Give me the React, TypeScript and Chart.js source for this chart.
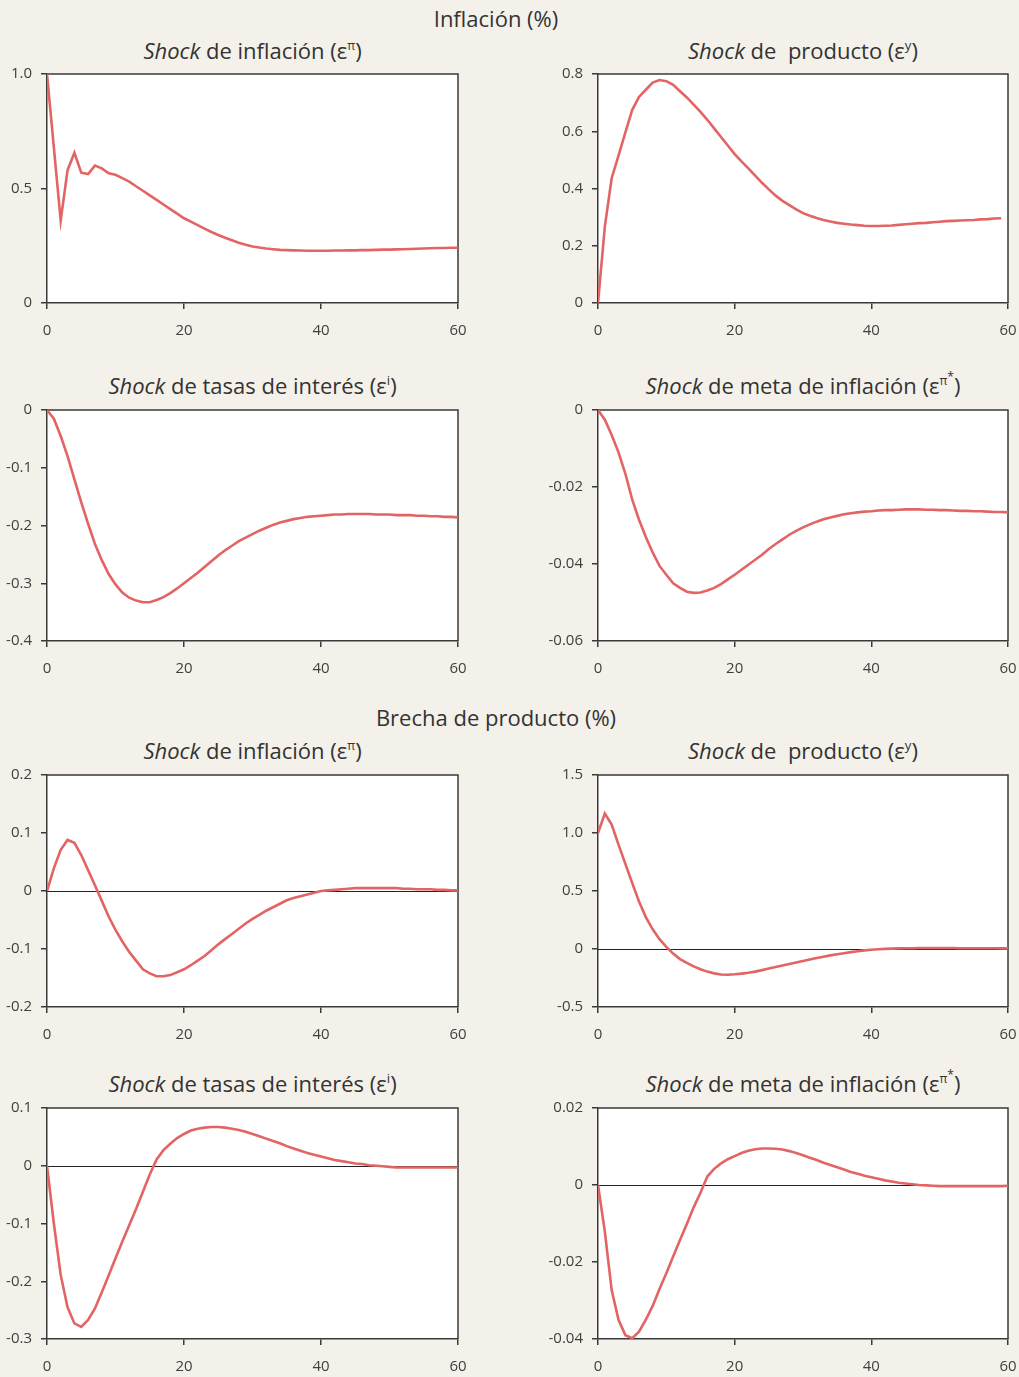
import React, { useEffect, useRef } from "react";
import { Chart, registerables } from "chart.js";

Chart.register(...registerables);

// ---------------- DATA ----------------
const xTickLabels = ["0", "20", "40", "60"];

// Inflación (%) — Shock de inflación
const infShockPi = [1.0, 0.68, 0.36, 0.58, 0.656, 0.569, 0.563, 0.6, 0.588, 0.566, 0.56, 0.545, 0.53, 0.51, 0.49, 0.47, 0.45, 0.43, 0.41, 0.39, 0.37, 0.355, 0.34, 0.325, 0.31, 0.297, 0.285, 0.274, 0.263, 0.254, 0.247, 0.242, 0.238, 0.235, 0.232, 0.231, 0.23, 0.229, 0.228, 0.228, 0.228, 0.228, 0.229, 0.229, 0.23, 0.23, 0.231, 0.231, 0.232, 0.233, 0.233, 0.234, 0.235, 0.236, 0.237, 0.238, 0.239, 0.24, 0.24, 0.241, 0.241];
const infShockPiTicks = ["0", "0.5", "1.0"];

// Inflación (%) — Shock de producto
const infShockY = [0, 0.267, 0.436, 0.515, 0.595, 0.674, 0.72, 0.745, 0.77, 0.779, 0.775, 0.762, 0.74, 0.718, 0.693, 0.668, 0.64, 0.61, 0.58, 0.55, 0.52, 0.495, 0.47, 0.445, 0.42, 0.397, 0.375, 0.357, 0.342, 0.327, 0.314, 0.305, 0.297, 0.29, 0.285, 0.28, 0.277, 0.274, 0.272, 0.27, 0.269, 0.269, 0.27, 0.271, 0.273, 0.275, 0.277, 0.279, 0.28, 0.282, 0.284, 0.286, 0.287, 0.288, 0.289, 0.29, 0.292, 0.293, 0.295, 0.296];
const infShockYTicks = ["0", "0.2", "0.4", "0.6", "0.8"];

// Inflación (%) — Shock de tasas de interés
const infShockI = [0, -0.015, -0.045, -0.08, -0.12, -0.16, -0.197, -0.232, -0.26, -0.284, -0.302, -0.316, -0.325, -0.33, -0.333, -0.333, -0.329, -0.324, -0.317, -0.309, -0.3, -0.291, -0.282, -0.272, -0.262, -0.252, -0.243, -0.235, -0.227, -0.221, -0.215, -0.209, -0.204, -0.199, -0.195, -0.192, -0.189, -0.187, -0.185, -0.184, -0.183, -0.182, -0.181, -0.181, -0.18, -0.18, -0.18, -0.18, -0.181, -0.181, -0.181, -0.182, -0.182, -0.182, -0.183, -0.183, -0.184, -0.184, -0.185, -0.185, -0.186];
const infShockITicks = ["-0.4", "-0.3", "-0.2", "-0.1", "0"];

// Inflación (%) — Shock de meta de inflación
const infShockMeta = [0, -0.0025, -0.0065, -0.011, -0.0165, -0.0232, -0.0285, -0.033, -0.037, -0.0405, -0.0428, -0.045, -0.0462, -0.0472, -0.0475, -0.0474, -0.0469, -0.0462, -0.0452, -0.044, -0.0428, -0.0415, -0.0402, -0.0389, -0.0376, -0.0361, -0.0348, -0.0336, -0.0324, -0.0314, -0.0305, -0.0297, -0.029, -0.0284, -0.0279, -0.0275, -0.0271, -0.0268, -0.0266, -0.0264, -0.0263, -0.0261, -0.026, -0.026, -0.0259, -0.0258, -0.0258, -0.0258, -0.0259, -0.0259, -0.026, -0.026, -0.0261, -0.0262, -0.0262, -0.0263, -0.0263, -0.0264, -0.0265, -0.0265, -0.0266];
const infShockMetaTicks = ["-0.06", "-0.04", "-0.02", "0"];

// Brecha de producto (%) — Shock de inflación
const gapShockPi = [0, 0.039, 0.071, 0.088, 0.083, 0.062, 0.036, 0.01, -0.017, -0.044, -0.067, -0.087, -0.105, -0.12, -0.135, -0.142, -0.147, -0.147, -0.145, -0.14, -0.135, -0.128, -0.12, -0.112, -0.102, -0.092, -0.083, -0.074, -0.065, -0.056, -0.048, -0.041, -0.034, -0.028, -0.022, -0.016, -0.012, -0.009, -0.006, -0.003, 0, 0.001, 0.002, 0.003, 0.004, 0.005, 0.005, 0.005, 0.005, 0.005, 0.005, 0.005, 0.004, 0.004, 0.003, 0.003, 0.003, 0.002, 0.002, 0.001, 0.001];
const gapShockPiTicks = ["-0.2", "-0.1", "0", "0.1", "0.2"];

// Brecha de producto (%) — Shock de producto
const gapShockY = [1.0, 1.168, 1.073, 0.9, 0.735, 0.57, 0.41, 0.275, 0.17, 0.085, 0.018, -0.04, -0.087, -0.12, -0.15, -0.175, -0.195, -0.21, -0.22, -0.222, -0.218, -0.212, -0.205, -0.195, -0.182, -0.168, -0.155, -0.142, -0.129, -0.116, -0.103, -0.09, -0.078, -0.066, -0.055, -0.045, -0.036, -0.027, -0.019, -0.012, -0.006, -0.002, 0.001, 0.003, 0.005, 0.006, 0.007, 0.008, 0.008, 0.008, 0.008, 0.008, 0.008, 0.007, 0.007, 0.007, 0.006, 0.006, 0.006, 0.005, 0.005];
const gapShockYTicks = ["-0.5", "0", "0.5", "1.0", "1.5"];

// Brecha de producto (%) — Shock de tasas de interés
const gapShockI = [0, -0.1, -0.189, -0.245, -0.273, -0.279, -0.267, -0.247, -0.219, -0.19, -0.16, -0.131, -0.103, -0.075, -0.045, -0.015, 0.011, 0.027, 0.038, 0.048, 0.055, 0.061, 0.064, 0.066, 0.067, 0.067, 0.066, 0.064, 0.062, 0.059, 0.055, 0.051, 0.047, 0.043, 0.039, 0.034, 0.03, 0.026, 0.022, 0.019, 0.016, 0.013, 0.01, 0.008, 0.006, 0.004, 0.003, 0.001, 0, -0.001, -0.002, -0.003, -0.003, -0.003, -0.003, -0.003, -0.003, -0.003, -0.003, -0.003, -0.003];
const gapShockITicks = ["-0.3", "-0.2", "-0.1", "0", "0.1"];

// Brecha de producto (%) — Shock de meta de inflación
const gapShockMeta = [0, -0.0121, -0.0273, -0.035, -0.039, -0.0398, -0.0381, -0.035, -0.0314, -0.027, -0.0229, -0.0186, -0.0143, -0.0101, -0.0058, -0.002, 0.0022, 0.0042, 0.0056, 0.0067, 0.0075, 0.0083, 0.0089, 0.0093, 0.0095, 0.0095, 0.0094, 0.0092, 0.0088, 0.0083, 0.0077, 0.0071, 0.0065, 0.0058, 0.0052, 0.0046, 0.004, 0.0034, 0.0029, 0.0024, 0.002, 0.0016, 0.0012, 0.0009, 0.0006, 0.0004, 0.0002, 0, -0.0001, -0.0002, -0.0003, -0.0003, -0.0003, -0.0003, -0.0003, -0.0003, -0.0003, -0.0003, -0.0003, -0.0003, -0.0002];
const gapShockMetaTicks = ["-0.04", "-0.02", "0", "0.02"];

// ---------------- STYLE / LAYOUT ----------------
const BG = "#F4F1EA";
const LINE = "rgb(226,100,100)";
const AXIS = "#3a3a3a";
const TEXT = "#333333";
const TICK_TEXT = "#404040";
const FONT = "'Open Sans', 'Noto Sans', sans-serif";

const COLS = [
  { x: 47, w: 411 },
  { x: 598, w: 410 },
];
const ROWS = [
  { y: 74, h: 229 },
  { y: 410, h: 231 },
  { y: 775, h: 232 },
  { y: 1108, h: 231 },
];

type PanelDef = {
  row: number;
  col: number;
  data: number[];
  ticks: string[];
  zeroLine: boolean;
  title: React.ReactNode;
};

const titlePi = (
  <>
    <i>Shock</i> de inflación (ε<sup style={{ fontSize: "0.55em", verticalAlign: "0.75em", lineHeight: 0 }}>π</sup>)
  </>
);
const titleY = (
  <>
    <i>Shock</i> de{"  "}producto (ε<sup style={{ fontSize: "0.6em", verticalAlign: "0.7em", lineHeight: 0 }}>y</sup>)
  </>
);
const titleI = (
  <>
    <i>Shock</i> de tasas de interés (ε<sup style={{ fontSize: "0.6em", verticalAlign: "0.7em", lineHeight: 0 }}>i</sup>)
  </>
);
const titleMeta = (
  <>
    <i>Shock</i> de meta de inflación (ε
    <sup style={{ fontSize: "0.55em", verticalAlign: "0.75em", lineHeight: 0 }}>
      π<span style={{ position: "relative", top: "-0.35em" }}>*</span>
    </sup>
    )
  </>
);

const PANELS: PanelDef[] = [
  { row: 0, col: 0, data: infShockPi, ticks: infShockPiTicks, zeroLine: false, title: titlePi },
  { row: 0, col: 1, data: infShockY, ticks: infShockYTicks, zeroLine: false, title: titleY },
  { row: 1, col: 0, data: infShockI, ticks: infShockITicks, zeroLine: false, title: titleI },
  { row: 1, col: 1, data: infShockMeta, ticks: infShockMetaTicks, zeroLine: false, title: titleMeta },
  { row: 2, col: 0, data: gapShockPi, ticks: gapShockPiTicks, zeroLine: true, title: titlePi },
  { row: 2, col: 1, data: gapShockY, ticks: gapShockYTicks, zeroLine: true, title: titleY },
  { row: 3, col: 0, data: gapShockI, ticks: gapShockITicks, zeroLine: true, title: titleI },
  { row: 3, col: 1, data: gapShockMeta, ticks: gapShockMetaTicks, zeroLine: true, title: titleMeta },
];

const SECTION_TITLES = [
  { text: "Inflación (%)", cy: 18 },
  { text: "Brecha de producto (%)", cy: 717 },
];
const SUBTITLE_CY = [50, 385, 750, 1083];

const PAD_TOP = 22;
const PAD_RIGHT = 28;
const X_AXIS_H = 40;

function Panel({ def }: { def: PanelDef }) {
  const ref = useRef<HTMLCanvasElement | null>(null);
  const col = COLS[def.col];
  const row = ROWS[def.row];
  const marginLeft = Math.min(62, col.x);
  const left = col.x - marginLeft;
  const top = row.y - PAD_TOP;
  const width = marginLeft + col.w + PAD_RIGHT;
  const height = PAD_TOP + row.h + X_AXIS_H;

  useEffect(() => {
    if (!ref.current) return;
    const yVals = def.ticks.map((t) => parseFloat(t));
    const xVals = xTickLabels.map((t) => parseFloat(t));
    const framePlugin = {
      id: "frame",
      beforeDraw(chart: any) {
        const { ctx, chartArea: a } = chart;
        ctx.save();
        ctx.fillStyle = "#ffffff";
        ctx.fillRect(a.left, a.top, a.right - a.left, a.bottom - a.top);
        ctx.restore();
      },
      beforeDatasetsDraw(chart: any) {
        const { ctx, chartArea: a } = chart;
        ctx.save();
        if (def.zeroLine) {
          const y0 = chart.scales.y.getPixelForValue(0);
          ctx.strokeStyle = "#222";
          ctx.lineWidth = 1;
          ctx.beginPath();
          ctx.moveTo(a.left, Math.round(y0) + 0.5);
          ctx.lineTo(a.right, Math.round(y0) + 0.5);
          ctx.stroke();
        }
        ctx.strokeStyle = AXIS;
        ctx.lineWidth = 1.5;
        ctx.beginPath();
        ctx.moveTo(a.left, a.top);
        ctx.lineTo(a.right, a.top);
        ctx.lineTo(a.right, a.bottom);
        ctx.stroke();
        ctx.restore();
      },
    };
    const chart = new Chart(ref.current, {
      type: "line",
      data: {
        datasets: [
          {
            data: def.data.map((v, i) => ({ x: i, y: v })),
            borderColor: LINE,
            borderWidth: 2.6,
            pointRadius: 0,
            tension: 0,
            fill: false,
          },
        ],
      },
      options: {
        animation: false,
        responsive: false,
        maintainAspectRatio: false,
        layout: { padding: { left: 0, top: PAD_TOP, right: PAD_RIGHT, bottom: 0 } },
        plugins: { legend: { display: false }, tooltip: { enabled: false }, title: { display: false } },
        scales: {
          x: {
            type: "linear",
            min: xVals[0],
            max: xVals[xVals.length - 1],
            afterFit: (s: any) => {
              s.height = X_AXIS_H;
            },
            afterBuildTicks: (s: any) => {
              s.ticks = xVals.map((v) => ({ value: v }));
            },
            ticks: {
              padding: 13,
              color: TICK_TEXT,
              font: { family: FONT, size: 15 },
              maxRotation: 0,
              callback: (v: any) => xTickLabels[xVals.indexOf(Number(v))] ?? "",
            },
            grid: { drawOnChartArea: false, drawTicks: true, tickLength: 6, color: AXIS, lineWidth: 1.5 },
            border: { display: true, color: AXIS, width: 1.5 },
          },
          y: {
            type: "linear",
            min: yVals[0],
            max: yVals[yVals.length - 1],
            afterFit: (s: any) => {
              s.width = marginLeft;
            },
            afterBuildTicks: (s: any) => {
              s.ticks = yVals.map((v) => ({ value: v }));
            },
            ticks: {
              padding: 9,
              color: TICK_TEXT,
              font: { family: FONT, size: 15 },
              callback: (v: any) => {
                const idx = yVals.findIndex((t) => Math.abs(t - Number(v)) < 1e-9);
                return idx >= 0 ? def.ticks[idx] : "";
              },
            },
            grid: { drawOnChartArea: false, drawTicks: true, tickLength: 6, color: AXIS, lineWidth: 1.5 },
            border: { display: true, color: AXIS, width: 1.5 },
          },
        },
      },
      plugins: [framePlugin],
    } as any);
    return () => chart.destroy();
  }, []);

  const cx = col.x + col.w / 2;
  const cy = SUBTITLE_CY[def.row];
  return (
    <>
      <div
        style={{
          position: "absolute",
          left: cx - 250,
          width: 500,
          top: cy - 16,
          height: 32,
          lineHeight: "32px",
          textAlign: "center",
          fontFamily: FONT,
          fontSize: 22,
          color: TEXT,
          whiteSpace: "pre",
        }}
      >
        {def.title}
      </div>
      <canvas
        ref={ref}
        width={width}
        height={height}
        style={{ position: "absolute", left, top, width, height }}
      />
    </>
  );
}

export default function App() {
  return (
    <div
      style={{
        position: "absolute",
        left: 0,
        top: 0,
        width: 1019,
        height: 1377,
        background: BG,
        overflow: "hidden",
      }}
    >
      {SECTION_TITLES.map((t) => (
        <div
          key={t.text}
          style={{
            position: "absolute",
            left: 0,
            width: 992,
            top: t.cy - 16,
            height: 32,
            lineHeight: "32px",
            textAlign: "center",
            fontFamily: FONT,
            fontSize: 22,
            color: TEXT,
          }}
        >
          {t.text}
        </div>
      ))}
      {PANELS.map((p, i) => (
        <Panel key={i} def={p} />
      ))}
    </div>
  );
}
